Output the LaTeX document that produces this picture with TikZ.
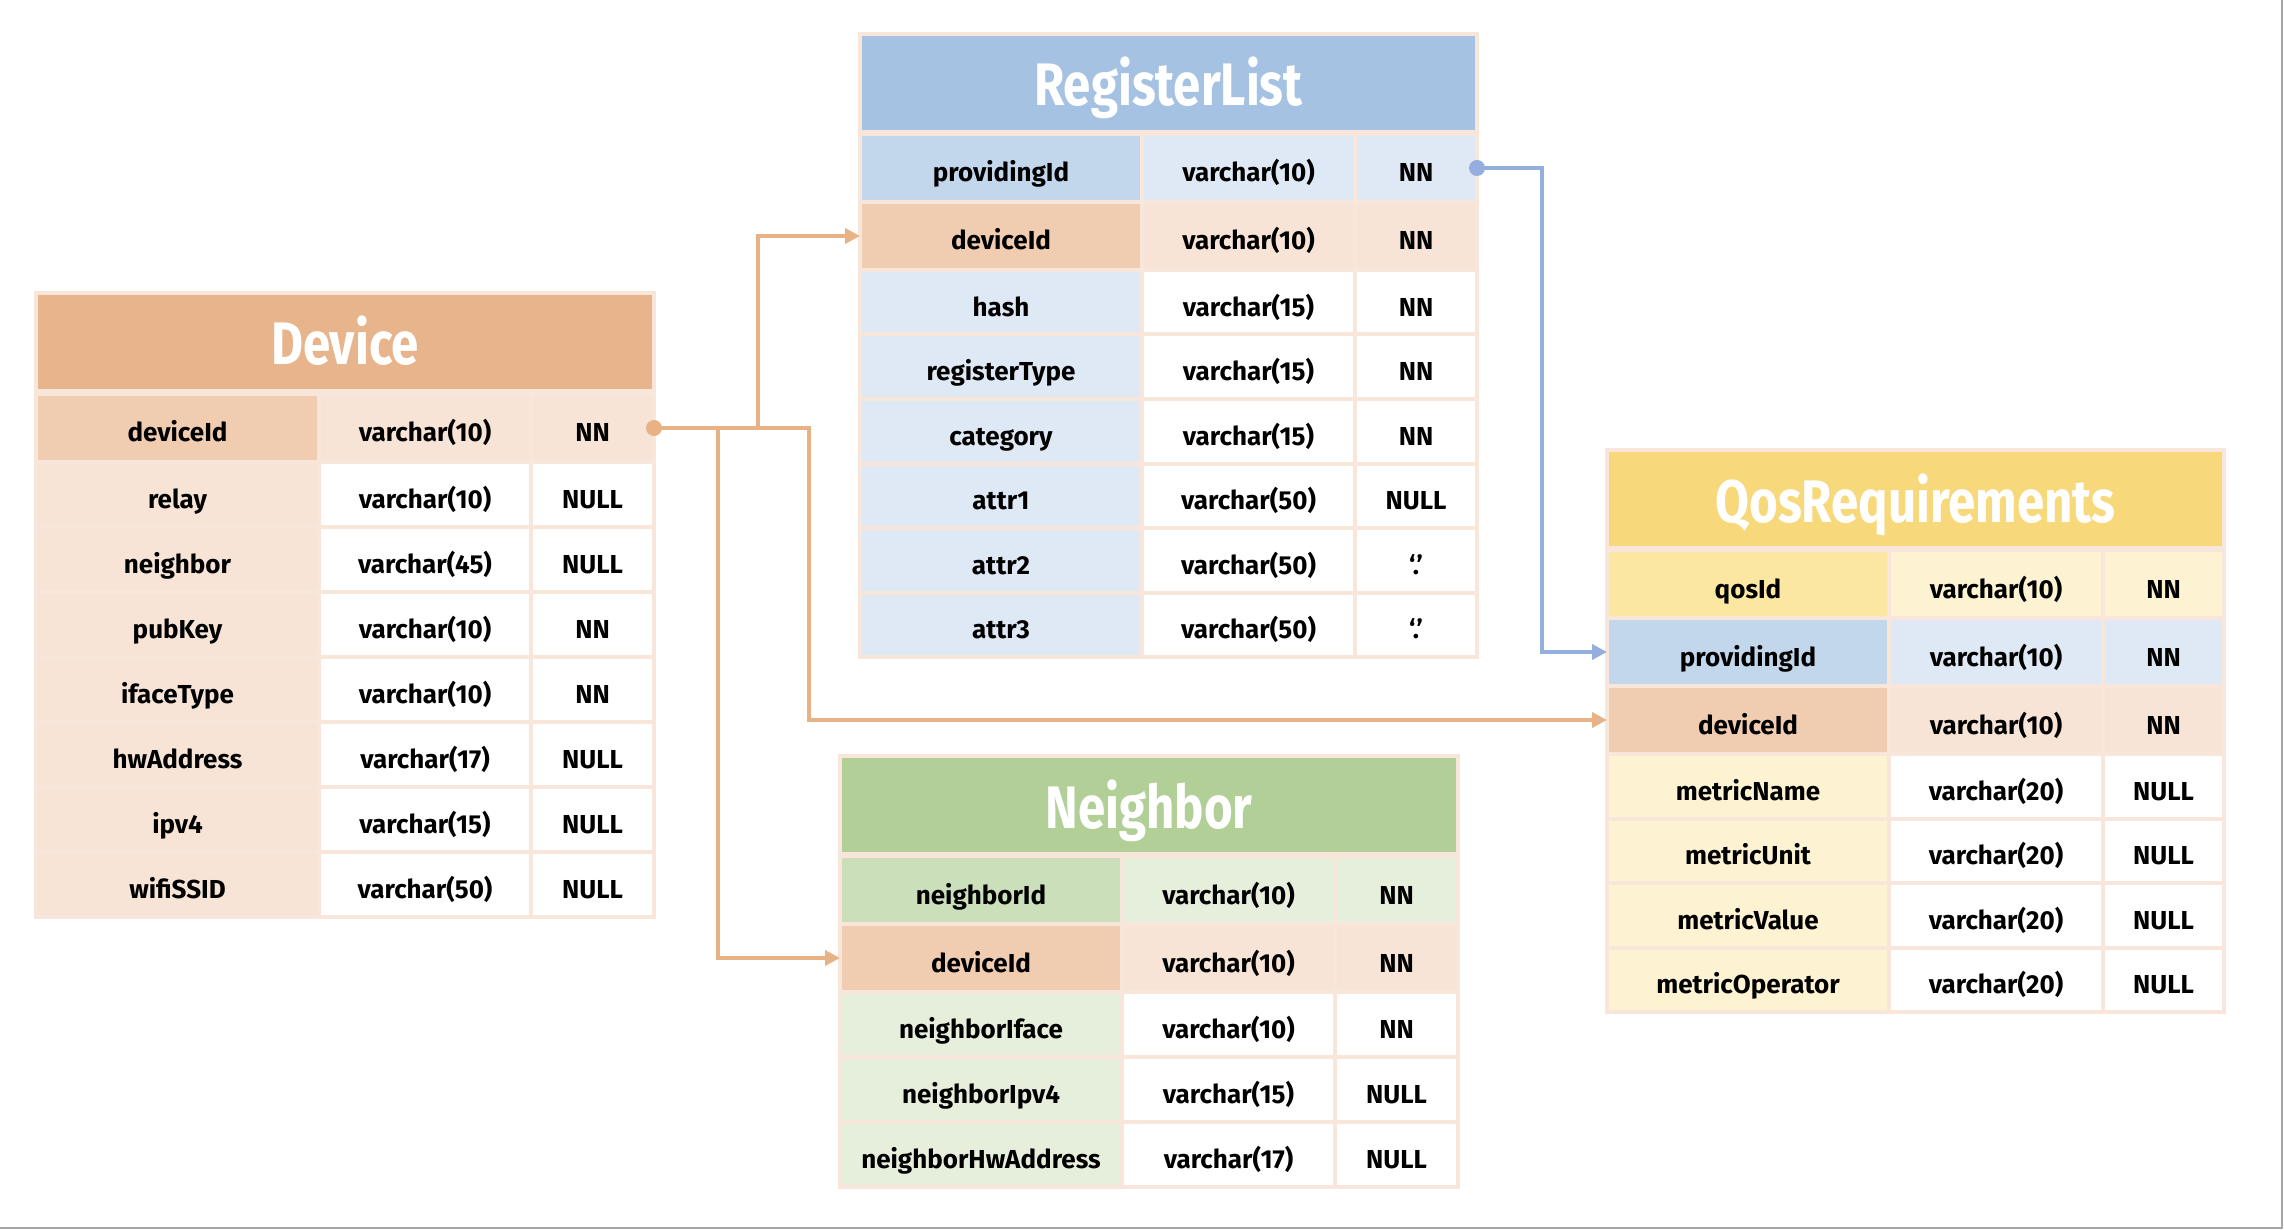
\documentclass[tikz,border=0pt]{standalone}
\usepackage{fontspec}
\setmainfont{Fira Sans}
\newfontfamily\titlefam{Fira Sans}[FakeStretch=0.82]
\usetikzlibrary{arrows.meta,positioning}

\definecolor{gridline}{HTML}{F8E6DA}
\definecolor{devtitle}{HTML}{E8B48B}
\definecolor{devkey}{HTML}{F0CCB0}
\definecolor{devlite}{HTML}{F7E4D7}
\definecolor{regtitle}{HTML}{A6C2E2}
\definecolor{regkey}{HTML}{C2D7EC}
\definecolor{reglite}{HTML}{DFE9F5}
\definecolor{nbtitle}{HTML}{B3CF98}
\definecolor{nbkey}{HTML}{CBE0BA}
\definecolor{nblite}{HTML}{E6EEDC}
\definecolor{qostitle}{HTML}{F7D97B}
\definecolor{qoskey}{HTML}{FBE6A2}
\definecolor{qoslite}{HTML}{FDF2D1}
\definecolor{linkor}{HTML}{E9B284}
\definecolor{linkbl}{HTML}{94AEDD}

\def\rh{68}
\tikzset{
    cell/.style = {rectangle, draw=gridline, line width=4pt, inner sep=0pt, outer sep=0pt,
                   anchor=north west, minimum height=\rh pt, text=black,
                   text height=28pt, text depth=0pt,
                   font=\fontsize{26}{30}\selectfont\bfseries},
    tabtitle/.style = {cell, minimum height=98pt, text=white, text height=46pt,
                   font=\titlefam\fontsize{60}{64}\selectfont\bfseries},
    link/.style = {line width=4pt, -{Triangle[length=15pt,width=15pt]}},
    linkdot/.style = {circle, inner sep=0pt, minimum size=16pt}
}

% column edges of the current table
\newcommand{\setcols}[4]{\def\cA{#1}\def\cB{#2}\def\cC{#3}\def\cD{#4}}
% one table row: name, top, fill of key cell, fill of other cells, three texts
\newcommand{\trow}[7]{%
    \pgfmathsetmacro{\wA}{\cB-\cA}%
    \pgfmathsetmacro{\wB}{\cC-\cB}%
    \pgfmathsetmacro{\wC}{\cD-\cC}%
    \node[cell, fill=#3, minimum width=\wA pt] (#1-a) at (\cA,#2) {#5};
    \node[cell, fill=#4, minimum width=\wB pt] (#1-b) at (\cB,#2) {#6};
    \node[cell, fill=#4, minimum width=\wC pt] (#1-c) at (\cC,#2) {#7};
}

\begin{document}
\begin{tikzpicture}[x=1pt, y=-1pt]
    \useasboundingbox (0,0) rectangle (2284,1230);

    % Device
    \setcols{36}{319}{531}{654}
    \node[tabtitle, fill=devtitle, minimum width=618pt] (dev-t) at (36,293) {Device};
    \def\rh{68}
    \trow{dev-1}{394}{devkey}{devlite}{deviceId}{varchar(10)}{NN}
    \def\rh{65}
    \foreach \na/\ty/\nu [count=\i from 2] in {relay/varchar(10)/NULL, neighbor/varchar(45)/NULL,
        pubKey/varchar(10)/NN, ifaceType/varchar(10)/NN, hwAddress/varchar(17)/NULL,
        ipv4/varchar(15)/NULL, wifiSSID/varchar(50)/NULL}
        {\pgfmathsetmacro{\yy}{462+(\i-2)*65}\trow{dev-\i}{\yy}{devlite}{white}{\na}{\ty}{\nu}}

    % RegisterList
    \setcols{860}{1142}{1355}{1477}
    \node[tabtitle, fill=regtitle, minimum width=617pt] (reg-t) at (860,34) {RegisterList};
    \def\rh{68}
    \trow{reg-1}{134}{regkey}{reglite}{providingId}{varchar(10)}{NN}
    \trow{reg-2}{202}{devkey}{devlite}{deviceId}{varchar(10)}{NN}
    \def\rh{64.5}
    \foreach \na/\ty/\nu [count=\i from 3] in {hash/varchar(15)/NN, registerType/varchar(15)/NN,
        category/varchar(15)/NN, attr1/varchar(50)/NULL, attr2/varchar(50)/‘.’, attr3/varchar(50)/‘.’}
        {\pgfmathsetmacro{\yy}{270+(\i-3)*64.5}\trow{reg-\i}{\yy}{reglite}{white}{\na}{\ty}{\nu}}

    % Neighbor
    \setcols{840}{1122}{1335}{1458}
    \node[tabtitle, fill=nbtitle, minimum width=618pt] (nb-t) at (840,756) {Neighbor};
    \def\rh{68}
    \trow{nb-1}{856}{nbkey}{nblite}{neighborId}{varchar(10)}{NN}
    \trow{nb-2}{924}{devkey}{devlite}{deviceId}{varchar(10)}{NN}
    \def\rh{65}
    \foreach \na/\ty/\nu [count=\i from 3] in {neighborIface/varchar(10)/NN,
        neighborIpv4/varchar(15)/NULL, neighborHwAddress/varchar(17)/NULL}
        {\pgfmathsetmacro{\yy}{992+(\i-3)*65}\trow{nb-\i}{\yy}{nblite}{white}{\na}{\ty}{\nu}}

    % QosRequirements
    \setcols{1607}{1889}{2103}{2224}
    \node[tabtitle, fill=qostitle, minimum width=617pt] (qos-t) at (1607,450) {QosRequirements};
    \def\rh{68}
    \trow{qos-1}{550}{qoskey}{qoslite}{qosId}{varchar(10)}{NN}
    \trow{qos-2}{618}{regkey}{reglite}{providingId}{varchar(10)}{NN}
    \trow{qos-3}{686}{devkey}{devlite}{deviceId}{varchar(10)}{NN}
    \def\rh{64.5}
    \foreach \na/\ty/\nu [count=\i from 4] in {metricName/varchar(20)/NULL, metricUnit/varchar(20)/NULL,
        metricValue/varchar(20)/NULL, metricOperator/varchar(20)/NULL}
        {\pgfmathsetmacro{\yy}{754+(\i-4)*64.5}\trow{qos-\i}{\yy}{qoslite}{white}{\na}{\ty}{\nu}}

    % Links
    \draw[link, linkor] (dev-1-c.east) -- ++(104,0) |- (reg-2-a.west);
    \draw[link, linkor] (dev-1-c.east) -- ++(155,0) |- (qos-3-a.west);
    \draw[link, linkor] (dev-1-c.east) -- ++(64,0) |- (nb-2-a.west);
    \draw[link, linkbl] (reg-1-c.east) -- ++(65,0) |- (qos-2-a.west);
    \node[linkdot, fill=linkor] (dev-dot) at (dev-1-c.east) {};
    \node[linkdot, fill=linkbl] (reg-dot) at (reg-1-c.east) {};

    % page edge
    \draw[gray!70, line width=2pt] (0,1228) -- (2282,1228) -- (2282,0);
\end{tikzpicture}
\end{document}
